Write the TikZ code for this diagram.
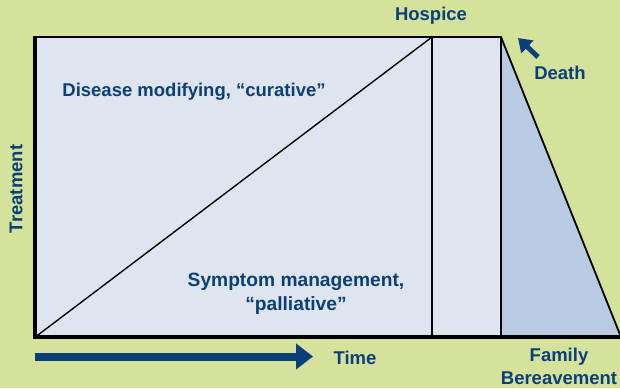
\documentclass[tikz,border=0pt]{standalone}
\usepackage{fontspec}
\setmainfont{Liberation Sans}
\usetikzlibrary{arrows.meta}
\definecolor{bg}{HTML}{D5E29C}
\definecolor{lightfill}{HTML}{DFE5F0}
\definecolor{darkfill}{HTML}{B9CBE2}
\definecolor{txt}{HTML}{0B3F7A}
\tikzset{
  lbl/.style={font=\bfseries\fontsize{18.5}{23.5}\selectfont, text=txt, inner sep=0pt, align=center},
  edge/.style={draw=black, line width=1.8pt},
  diag/.style={draw=black, line width=1.4pt},
  thick edge/.style={draw=black, line width=4pt}
}
\begin{document}
\begin{tikzpicture}[x=1pt,y=-1pt]
\useasboundingbox (0,0) rectangle (620,388);
\fill[bg] (0,0) rectangle (620,388);
% regions
\coordinate (BL) at (35.3,337);
\coordinate (TL) at (35.3,37);
\coordinate (TM) at (432,37);
\coordinate (BM) at (432,337);
\coordinate (TH) at (501,37);
\coordinate (BH) at (501,337);
\coordinate (BR) at (621,337);
\fill[lightfill] (BL) rectangle (TH);
\fill[darkfill] (TH) -- (BR) -- (BH) -- cycle;
\draw[edge] (TL) -- (TH) -- (BR);
\draw[edge] (TM) -- (BM);
\draw[edge] (TH) -- (BH);
\draw[diag] (BL) -- (TM);
\draw[thick edge] (35.3,36.1) -- (BL) -- (BR);
% labels
\node[lbl] (dis) at (194,91.5) {Disease modifying, “curative”};
\node[lbl, font=\bfseries\fontsize{19.2}{24}\selectfont] (sym) at (296,294) {Symptom management,\\“palliative”};
\node[lbl] (hos) at (431,16) {Hospice};
\node[lbl] (dea) at (560,73) {Death};
\node[lbl, rotate=90] (tre) at (16,189) {Treatment};
\node[lbl] (tim) at (355,358) {Time};
\node[lbl] (fam) at (559,366.5) {Family\\Bereavement};
\coordinate (ta) at (35,356.5);
\coordinate (tb) at (313,356.5);
\draw[txt, line width=8pt, -{Triangle[width=25pt,length=17pt]}] (ta) -- (tb);
\coordinate (da) at (538,57);
\coordinate (db) at (518,38);
\draw[txt, line width=5pt, -{Triangle[width=17pt,length=13pt]}] (da) -- (db);
\end{tikzpicture}
\end{document}
